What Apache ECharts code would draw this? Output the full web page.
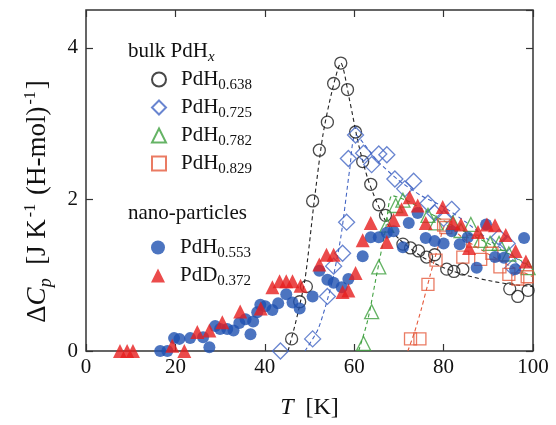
<!DOCTYPE html>
<html>
<head>
<meta charset="utf-8">
<script src="https://cdn.jsdelivr.net/npm/echarts@6/dist/echarts.min.js"></script>
<style>
  html, body { margin: 0; padding: 0; background: #fff; }
  #chart { width: 556px; height: 425px; }
</style>
</head>
<body>
<div id="chart"></div>
<script>
// bulk PdHx  [T (K), dCp]
var bulk638 = [[46.0,0.16],[47.8,0.65],[49.3,0.85],[50.7,1.98],[52.2,2.65],[54.0,3.02],[55.4,3.53],[57.0,3.80],[58.5,3.45],[60.3,2.89],[61.9,2.50],[63.7,2.20],[65.5,1.93],[67.0,1.79],[70.9,1.41],[72.6,1.36],[74.4,1.32],[76.2,1.24],[78.0,1.27],[80.7,1.08],[82.3,1.05],[84.3,1.08],[94.8,0.82],[96.6,0.72],[98.9,0.80]];
var bulk725 = [[43.5,0.0],[50.7,0.16],[54.0,0.72],[55.4,1.12],[57.4,1.29],[58.3,1.70],[58.7,2.54],[60.3,2.85],[62.1,2.61],[63.9,2.46],[65.5,2.60],[67.3,2.59],[69.1,2.27],[71.3,2.14],[73.3,2.24],[76.5,1.95],[78.0,1.82],[80.0,1.75],[81.8,1.87],[92.4,1.50],[94.2,1.42],[95.5,1.10]];
var bulk782 = [[62.1,0.10],[63.9,0.52],[65.5,1.11],[67.3,1.66],[69.3,1.92],[70.9,1.99],[76.5,1.79],[78.3,1.69],[82.1,1.69],[83.9,1.59],[86.1,1.67],[88.3,1.46],[90.4,1.42],[92.4,1.42],[94.6,1.28],[98.9,1.10]];
var bulk829 = [[72.6,0.16],[74.7,0.16],[76.5,0.88],[78.3,1.20],[80.0,1.66],[80.5,1.63],[84.3,1.24],[86.5,1.45],[88.3,1.21],[90.8,1.29],[92.6,1.11],[94.6,1.01],[96.6,0.95],[98.7,0.98]];
// nano-particles
var nano553 = [[16.6,0.0],[18.2,0.0],[19.7,0.17],[20.9,0.16],[23.3,0.17],[26.2,0.18],[27.6,0.05],[28.9,0.33],[30.0,0.29],[31.6,0.29],[33.0,0.27],[34.3,0.37],[35.7,0.42],[36.8,0.22],[37.4,0.39],[38.3,0.51],[39.0,0.61],[40.1,0.59],[41.7,0.54],[43.0,0.63],[44.8,0.75],[46.2,0.64],[47.8,0.56],[50.7,0.72],[52.2,1.06],[54.0,0.94],[55.4,0.90],[57.2,0.84],[58.7,0.95],[61.9,1.25],[63.7,1.50],[65.5,1.50],[67.3,1.56],[68.8,1.58],[70.9,1.37],[72.2,1.69],[74.2,1.82],[76.0,1.49],[78.0,1.45],[80.0,1.42],[81.8,1.58],[83.6,1.41],[85.4,1.50],[87.4,1.10],[89.5,1.67],[91.5,1.24],[93.5,1.23],[96.0,1.08],[98.0,1.49]];
var nanoD372 = [[7.6,0.0],[9.2,0.0],[10.5,0.0],[19.3,0.07],[22.0,0.0],[24.9,0.25],[27.6,0.27],[30.5,0.38],[34.5,0.52],[39.1,0.56],[41.7,0.84],[43.3,0.92],[44.8,0.92],[46.2,0.92],[48.0,0.86],[52.2,1.14],[53.8,1.27],[55.4,1.27],[57.4,0.78],[58.7,0.80],[60.3,1.03],[61.9,1.46],[63.7,1.69],[67.3,1.44],[68.8,1.73],[70.6,1.87],[72.4,2.03],[74.2,1.92],[76.0,1.69],[79.8,1.90],[82.1,1.69],[83.9,1.67],[85.7,1.36],[87.7,1.57],[89.7,1.67],[91.5,1.66],[93.9,1.53],[96.1,1.32],[98.4,1.18]];
// dashed guide curves
var fit638 = [[45.2,0],[47,0.4],[49,0.95],[51,1.95],[53,2.85],[55,3.42],[57,3.8],[59,3.3],[61,2.72],[63,2.28],[65,1.97],[67,1.72],[70,1.48],[75,1.25],[80,1.1],[85,1.0],[90,0.93],[95,0.88],[100,0.85]];
var fit725 = [[49,0],[52,0.3],[55,0.9],[57,1.5],[59,2.4],[60.3,2.85],[65,2.52],[70,2.25],[75,2.05],[80,1.9],[85,1.7],[90,1.47],[95,1.27],[100,1.08]];
var fit782 = [[61,0],[63,0.4],[65,1.0],[67,1.6],[68.5,2.05],[72,1.98],[75,1.88],[80,1.72],[85,1.57],[90,1.42],[95,1.27],[100,1.1]];
var fit829 = [[72,0],[73.5,0.25],[75,0.55],[77,1.0],[79,1.42],[80.5,1.66],[85,1.46],[90,1.28],[95,1.12],[100,0.98]];

var serif = 'Liberation Serif';
var bulkNames = ['PdH0.638', 'PdH0.725', 'PdH0.782', 'PdH0.829'];
var nanoNames = ['PdH0.553', 'PdD0.372'];

function hollow (name, data, symbol, size, color) {
  return {
    name: name, type: 'scatter', data: data, symbol: symbol, symbolSize: size,
    itemStyle: { color: 'rgba(255,255,255,0)', borderColor: color, borderWidth: 1.3 },
    z: 3
  };
}
function filled (name, data, symbol, size, color) {
  return {
    name: name, type: 'scatter', data: data, symbol: symbol, symbolSize: size,
    itemStyle: { color: color }, z: 4
  };
}
function guide (data, color) {
  return {
    type: 'line', data: data, smooth: 0.25, showSymbol: false, silent: true,
    lineStyle: { color: color, width: 1.1, type: [4, 3] }, z: 2
  };
}

var myChart = echarts.init(document.getElementById('chart'));
var legendRich = {
  a: { fontFamily: serif, fontSize: 21, color: '#111', verticalAlign: 'middle' },
  b: { fontFamily: serif, fontSize: 15, color: '#111', verticalAlign: 'top', padding: [12, 0, 0, 0] }
};
function legendFmt (name) {
  return '{a|' + name.slice(0, 3) + '}{b|' + name.slice(3) + '}';
}
var tickAxis = {
  axisLine: { show: false, onZero: false },
  axisTick: { inside: true, length: 7, lineStyle: { color: '#333', width: 1.2 } },
  splitLine: { show: false }
};

option = {
  animation: false,
  backgroundColor: '#fff',
  grid: { left: 86, right: 23, top: 10, bottom: 73, show: true, borderColor: '#333', borderWidth: 1.5 },
  xAxis: [Object.assign({
    type: 'value', min: 0, max: 100, interval: 20,
    name: '{i|T}{n|  [K]}', nameLocation: 'middle', nameGap: 45,
    nameTextStyle: { rich: {
      i: { fontFamily: serif, fontStyle: 'italic', fontSize: 24, color: '#111' },
      n: { fontFamily: serif, fontSize: 24, color: '#111' } } },
    axisLabel: { fontFamily: serif, fontSize: 21, color: '#111', margin: 6 }
  }, tickAxis), Object.assign({
    type: 'value', min: 0, max: 100, interval: 20, position: 'top',
    axisLabel: { show: false }
  }, tickAxis)],
  yAxis: [Object.assign({
    type: 'value', min: 0, max: 4.5, interval: 2,
    name: '{n|Δ}{i|C}{s|p}{n|  [J K}{u|-1}{n| (H-mol)}{u|-1}{n|]}',
    nameLocation: 'middle', nameGap: 31,
    nameTextStyle: { padding: [0, 42, 0, 0], rich: {
      n: { fontFamily: serif, fontSize: 27, color: '#111', verticalAlign: 'middle' },
      i: { fontFamily: serif, fontStyle: 'italic', fontSize: 27, color: '#111', verticalAlign: 'middle' },
      s: { fontFamily: serif, fontStyle: 'italic', fontSize: 18, color: '#111', verticalAlign: 'top', padding: [16, 0, 0, 0] },
      u: { fontFamily: serif, fontSize: 16, color: '#111', verticalAlign: 'bottom', padding: [0, 2, 16, 2] } } },
    axisLabel: { fontFamily: serif, fontSize: 21, color: '#111', margin: 8, showMaxLabel: false }
  }, tickAxis), Object.assign({
    type: 'value', min: 0, max: 4.5, interval: 2, position: 'right',
    axisLabel: { show: false }
  }, tickAxis)],
  legend: [{
    data: bulkNames, orient: 'vertical', left: 146, top: 64,
    itemWidth: 14, itemHeight: 14, itemGap: 4,
    formatter: legendFmt,
    textStyle: { rich: legendRich, padding: [0, 0, 0, 10] }
  }, {
    data: nanoNames, orient: 'vertical', left: 146, top: 232,
    itemWidth: 14, itemHeight: 14, itemGap: 4,
    formatter: legendFmt,
    textStyle: { rich: legendRich, padding: [0, 0, 0, 10] }
  }],
  graphic: [{
    type: 'text', left: 128, top: 41,
    style: { rich: {
      a: { fontFamily: serif, fontSize: 21, fill: '#111', verticalAlign: 'middle' },
      x: { fontFamily: serif, fontStyle: 'italic', fontSize: 15, fill: '#111', verticalAlign: 'top', padding: [12, 0, 0, 0] } },
      text: '{a|bulk PdH}{x|x}' }
  }, {
    type: 'text', left: 128, top: 203,
    style: { text: 'nano-particles', fontFamily: serif, fontSize: 21, fill: '#111' }
  }],
  series: [
    guide(fit638, '#222'),
    guide(fit725, '#4466c4'),
    guide(fit782, '#3fa03f'),
    guide(fit829, '#e55a3c'),
    hollow('PdH0.638', bulk638, 'circle', 12, '#1a1a1a'),
    hollow('PdH0.725', bulk725, 'diamond', 16, '#4466c4'),
    hollow('PdH0.782', bulk782, 'triangle', 14, '#3fa03f'),
    hollow('PdH0.829', bulk829, 'rect', 12, '#e55a3c'),
    filled('PdH0.553', nano553, 'circle', 12, '#1f51b0'),
    filled('PdD0.372', nanoD372, 'triangle', 14, '#e61e1e')
  ]
};

myChart.setOption(option);
window.addEventListener('resize', function () {
  myChart.resize();
});
</script>
</body>
</html>
